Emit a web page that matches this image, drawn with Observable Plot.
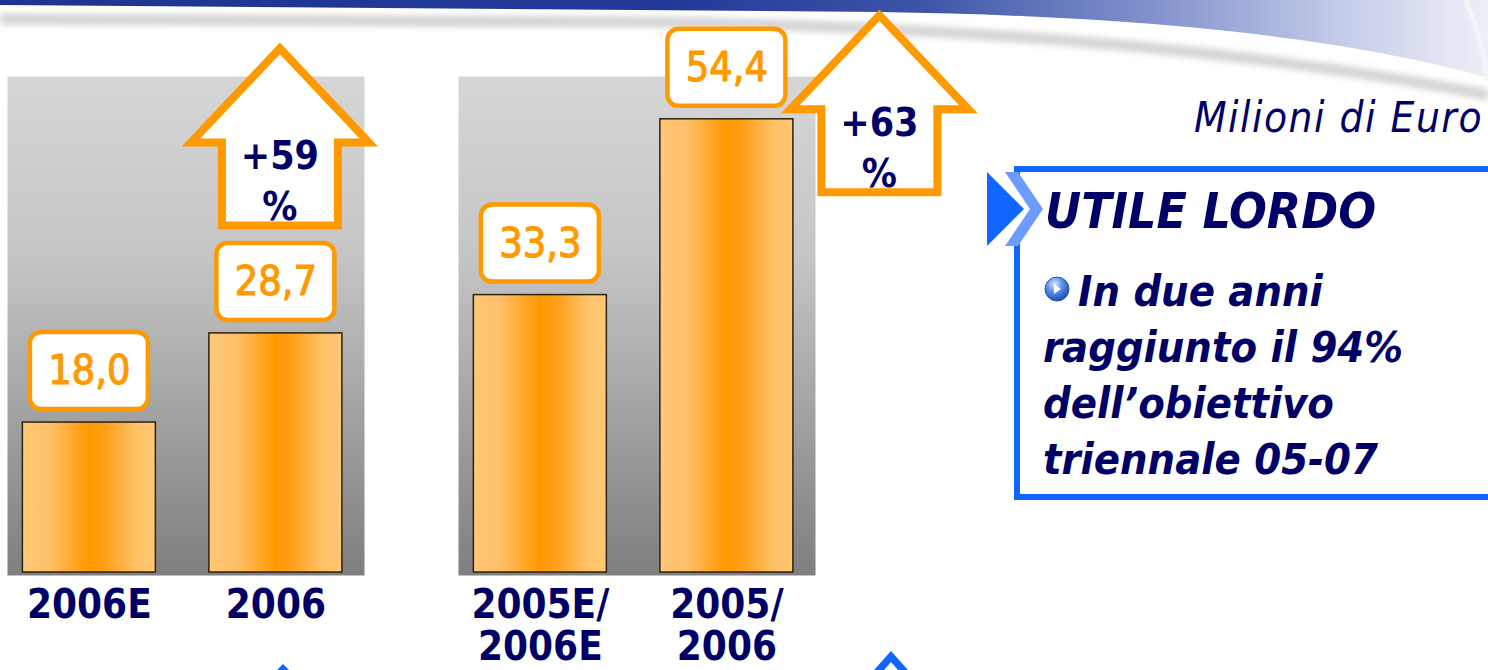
<!DOCTYPE html>
<html><head><meta charset="utf-8">
<script src="https://cdn.jsdelivr.net/npm/d3@7"></script>
<script src="https://cdn.jsdelivr.net/npm/@observablehq/plot@0.6"></script>
<style>
html,body{margin:0;padding:0;background:#fff;}
#wrap{position:relative;width:1488px;height:670px;overflow:hidden;font-family:'DejaVu Sans Condensed','DejaVu Sans',sans-serif;font-stretch:condensed;}
#bg,#chart{position:absolute;left:0;top:0;}
</style></head><body>
<div id="wrap"><svg id="bg" width="1488" height="670"></svg><div id="chart"></div></div>
<script>
// ---- data ----
const panels = ["A", "A", "B", "B"];
const slots = ["first", "second", "first", "second"];
const categories = ["2006E", "2006", "2005E/\n2006E", "2005/\n2006"];
const values = [18.0, 28.7, 33.3, 54.4];
const growthLabels = ["+59\n%", "+63\n%"];
const growthPanels = ["A", "B"];
const unitLabel = "Milioni di Euro";
const boxTitle = "UTILE LORDO";
const boxLines = ["In due anni", "raggiunto il 94%", "dell\u2019obiettivo", "triennale 05-07"];

const bars = values.map((v, i) => ({panel: panels[i], slot: slots[i], category: categories[i], value: v}));
const arrows = growthLabels.map((t, i) => {
  const b = bars.find(d => d.panel === growthPanels[i] && d.slot === "second");
  return {panel: b.panel, slot: b.slot, value: b.value, label: t};
});
const fmt = v => v.toFixed(1).replace(".", ",");

const NAVY = "#000066", ORANGE = "#ff9900", BLUE = "#1166ff";
const FONT = "'DejaVu Sans Condensed','DejaVu Sans',sans-serif";
const FONT_WIDE = "'DejaVu Sans',sans-serif";

// ---- background / decoration svg ----
const bg = document.getElementById("bg");
bg.innerHTML = `
<defs>
  <linearGradient id="gray" x1="0" y1="0" x2="0" y2="1">
    <stop offset="0" stop-color="#d6d6d6"/><stop offset="0.35" stop-color="#c6c6c6"/><stop offset="1" stop-color="#7f7f7f"/>
  </linearGradient>
  <linearGradient id="orange" x1="0" y1="0" x2="1" y2="0">
    <stop offset="0" stop-color="#ffc878"/><stop offset="0.2" stop-color="#ffc06a"/><stop offset="0.5" stop-color="#ff9900"/>
    <stop offset="0.62" stop-color="#ff9f18"/><stop offset="0.85" stop-color="#ffc166"/><stop offset="1" stop-color="#ffc873"/>
  </linearGradient>
  <linearGradient id="banner" x1="0" y1="0" x2="1" y2="0">
    <stop offset="0" stop-color="#1d3590"/><stop offset="0.45" stop-color="#23399a"/><stop offset="0.62" stop-color="#3d55a8"/>
    <stop offset="0.78" stop-color="#8494cd"/><stop offset="0.9" stop-color="#c3cbe8"/><stop offset="1" stop-color="#eef0f7"/>
  </linearGradient>
  <radialGradient id="ball" cx="0.4" cy="0.3" r="0.75">
    <stop offset="0" stop-color="#d8e6ff"/><stop offset="0.45" stop-color="#5a8fe8"/><stop offset="1" stop-color="#1a44a8"/>
  </radialGradient>
  <filter id="blur" x="-10%" y="-100%" width="120%" height="300%"><feGaussianBlur stdDeviation="3"/></filter>
</defs>
<path d="M0,19 L650,22 Q1150,30 1488,95" fill="none" stroke="#d4d4d4" stroke-width="11" filter="url(#blur)"/>
<path d="M0,0 L1488,0 L1488,78 Q1280,18 880,12 L0,5 Z" fill="url(#banner)"/>
<path d="M1466,0 Q1482,40 1488,80" fill="none" stroke="#f4f5fa" stroke-width="5"/>
<polygon points="277,670 283,664 289,670" fill="${BLUE}"/>
<polygon points="874,670 891,651 908,670 898,670 891,662 884,670" fill="${BLUE}"/>
<text x="1483" y="132" text-anchor="end" font-family="${FONT_WIDE}" font-style="italic" font-size="42" letter-spacing="1.5" fill="${NAVY}">${unitLabel}</text>
<path d="M1500,169 H1017 V182 M1017,240 V497 H1500" fill="none" stroke="${BLUE}" stroke-width="6"/>
<polygon points="987,172 1024,209 987,246" fill="${BLUE}"/>
<polygon points="1005,172 1018,172 1043,209 1018,246 1005,246 1030,209" fill="#6d9bff"/>
<text x="1045" y="228" font-family="${FONT}" font-stretch="condensed" font-style="italic" font-weight="bold" font-size="49.5" fill="${NAVY}">${boxTitle}</text>
<circle cx="1057" cy="289" r="12" fill="url(#ball)" stroke="#2a56b8" stroke-width="1"/>
<polygon points="1054,284 1061,289 1054,294" fill="#fff"/>
<g font-family="${FONT}" font-stretch="condensed" font-style="italic" font-weight="bold" font-size="43" fill="${NAVY}">
  <text x="1078" y="306">${boxLines[0]}</text>
  <text x="1043" y="362">${boxLines[1]}</text>
  <text x="1043" y="418">${boxLines[2]}</text>
  <text x="1043" y="474">${boxLines[3]}</text>
</g>`;

// custom arrow symbol, origin at the outer bottom centre of the arrow
const arrowSymbol = {
  draw(ctx) {
    ctx.moveTo(-58, -4); ctx.lineTo(-58, -87); ctx.lineTo(-89, -87); ctx.lineTo(0, -181);
    ctx.lineTo(89, -87); ctx.lineTo(58, -87); ctx.lineTo(58, -4); ctx.closePath();
  }
};
const arrowOffsets = [{dx: 4, dy: -104}, {dx: 152.5, dy: 77}];

const marks = [
  Plot.frame({fill: "url(#gray)", stroke: "none"}),
  Plot.barY(bars, {fx: "panel", x: "slot", y: "value", fill: "url(#orange)", stroke: "#2e2210", strokeWidth: 1.5}),
  Plot.barY(bars, {fx: "panel", x: "slot", y1: "value", y2: "value", insetTop: -90, insetBottom: 13,
    insetLeft: 7.5, insetRight: 7.5, rx: 11, fill: "white", stroke: ORANGE, strokeWidth: 4.5}),
  Plot.text(bars, {fx: "panel", x: "slot", y: "value", text: d => fmt(d.value), dy: -51.5,
    fill: ORANGE, stroke: ORANGE, strokeWidth: 1.1, fontSize: 41, fontWeight: 400}),
  Plot.text(bars, {fx: "panel", x: "slot", text: "category", frameAnchor: "bottom", lineAnchor: "top",
    dy: 13, fill: NAVY, fontSize: 40, fontWeight: "bold", lineHeight: 1.04})
];
arrows.forEach((a, i) => {
  const o = arrowOffsets[i];
  marks.push(Plot.dot([a], {fx: "panel", x: "slot", y: "value", symbol: arrowSymbol, r: 5,
    dx: o.dx, dy: o.dy, fill: "white", stroke: ORANGE, strokeWidth: 8, strokeLinejoin: "miter", strokeMiterlimit: 10}));
  marks.push(Plot.text([a], {fx: "panel", x: "slot", y: "value", text: "label", dx: o.dx, dy: o.dy - 51.5,
    lineAnchor: "middle", lineHeight: 51 / 39, fill: NAVY, fontSize: 39, fontWeight: "bold"}));
});

const chart = Plot.plot({
  width: 1488, height: 670,
  marginTop: 76, marginBottom: 95, marginLeft: 7, marginRight: 673,
  facet: {margin: 0},
  fx: {domain: ["A", "B"], paddingInner: 0.2084, paddingOuter: 0, axis: null, round: false},
  x: {domain: ["first", "second"], paddingInner: 0.287, paddingOuter: 0.1005, align: 0.41, axis: null, round: false},
  y: {domain: [-0.36, 59.54], axis: null},
  style: {background: "transparent", fontFamily: FONT, fontStretch: "condensed", overflow: "visible"},
  marks
});
document.getElementById("chart").appendChild(chart);
</script>
</body></html>
